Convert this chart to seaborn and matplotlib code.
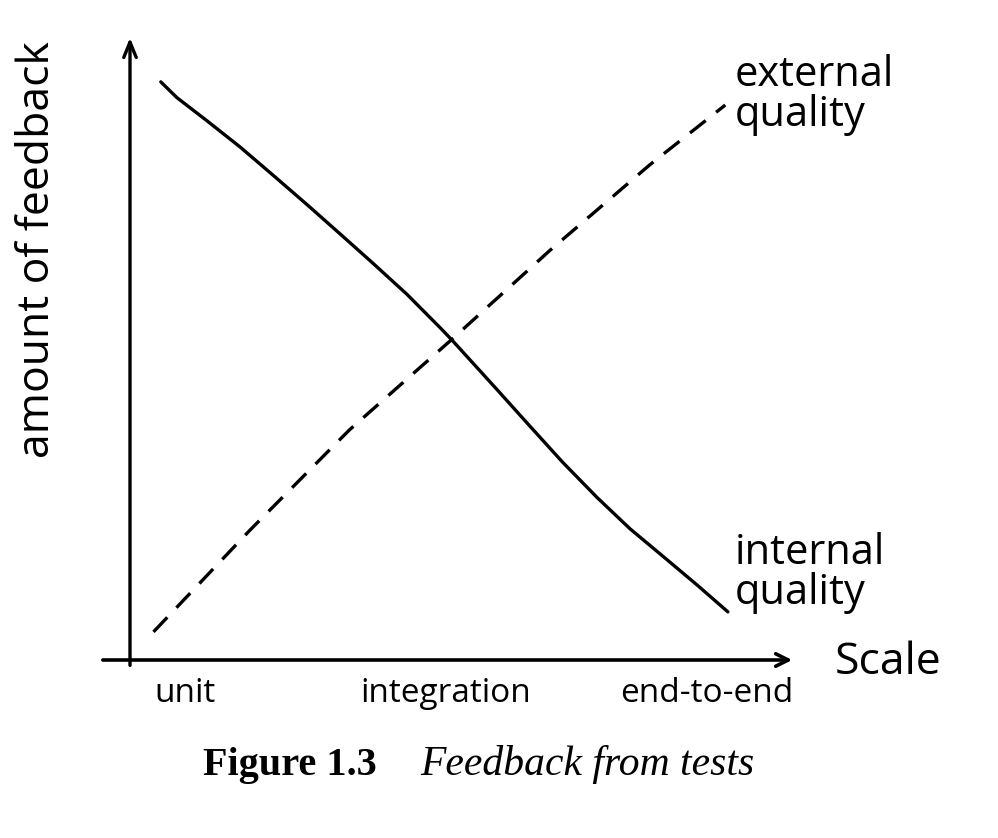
import matplotlib.pyplot as plt
import seaborn as sns
import pandas as pd

# test scale positions (0 = unit, 1 = integration, 2 = end-to-end) and feedback amount
tick_labels = ['unit', 'integration', 'end-to-end']
internal_x = [-0.092, -0.031, 0.084, 0.211, 0.337, 0.467, 0.594, 0.720, 0.851, 0.977,
              1.023, 1.195, 1.322, 1.448, 1.579, 1.705, 1.831, 1.962, 2.080]
internal_y = [92.5, 90.0, 86.3, 82.1, 77.6, 72.9, 68.2, 63.5, 58.5, 53.2,
              51.2, 43.3, 37.4, 31.6, 26.0, 21.0, 16.6, 12.0, 7.7]
external_x = [-0.12, 0.25, 0.63, 1.02, 1.40, 1.78, 2.07]
external_y = [4.5, 20.8, 36.8, 51.2, 65.6, 79.2, 88.8]

df_int = pd.DataFrame({'escala': internal_x, 'feedback': internal_y})
df_ext = pd.DataFrame({'escala': external_x, 'feedback': external_y})

sns.set_style('white')
plt.rcParams['font.family'] = ['Open Sans', 'DejaVu Sans']
plt.rcParams['text.color'] = 'black'
plt.rcParams['xtick.color'] = 'black'
plt.rcParams['axes.labelcolor'] = 'black'

fig = plt.figure(figsize=(9.98, 8.38), dpi=100)
ax = fig.add_axes([130 / 998, 1 - 660 / 838, 665 / 998, 625 / 838])

sns.lineplot(data=df_int, x='escala', y='feedback', color='black', linewidth=2.4, sort=False, ax=ax)
sns.lineplot(data=df_ext, x='escala', y='feedback', color='black', linewidth=2.4, sort=False,
             linestyle=(0, (6, 4)), ax=ax)

ax.set_xlim(-0.21, 2.337)
ax.set_ylim(0, 100)

for s in ax.spines.values():
    s.set_visible(False)

# ejes con flechas
ax.annotate('', xy=(1.0, 0), xytext=(-0.045, 0), xycoords='axes fraction',
            arrowprops=dict(arrowstyle='->,head_length=0.9,head_width=0.45', lw=2.6, color='black'),
            annotation_clip=False)
ax.annotate('', xy=(0, 1.0), xytext=(0, -0.013), xycoords='axes fraction',
            arrowprops=dict(arrowstyle='->,head_length=1.1,head_width=0.45', lw=2.4, color='black'),
            annotation_clip=False)

ax.set_xticks([0, 1, 2])
ax.set_xticklabels(tick_labels, fontsize=24)
ax.tick_params(axis='x', length=0, pad=12)
ax.set_yticks([])
ax.set_xlabel('')
ax.set_ylabel('amount of feedback', fontsize=32)
ax.yaxis.set_label_coords(-0.105, 0.656)

ax.text(2.107, 97, 'external\nquality', fontsize=30, va='top', ha='left', linespacing=0.95, clip_on=False)
ax.text(2.107, 20.5, 'internal\nquality', fontsize=30, va='top', ha='left', linespacing=0.95, clip_on=False)
ax.text(2.49, -0.5, 'Scale', fontsize=32, va='center', ha='left', clip_on=False)

fig.text(203 / 998, 1 - 775 / 838, 'Figure 1.3', fontsize=29, fontweight='bold',
         family='Liberation Serif', va='baseline', ha='left')
fig.text(420 / 998, 1 - 775 / 838, 'Feedback from tests', fontsize=30, fontstyle='italic',
         family='Liberation Serif', va='baseline', ha='left')

fig.savefig('out.png', dpi=100)
